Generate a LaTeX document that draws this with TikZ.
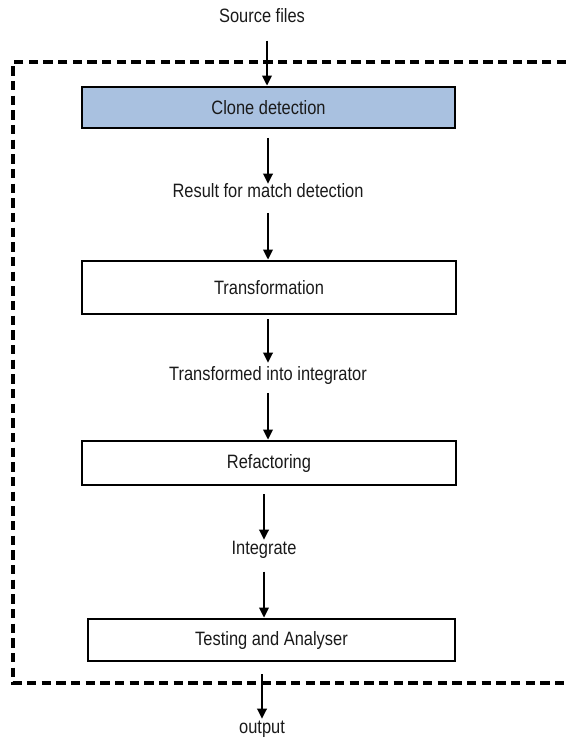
\documentclass[tikz,border=0pt]{standalone}
\usepackage{fontspec}
\setmainfont[FakeStretch=0.85]{Liberation Sans}
\usetikzlibrary{arrows.meta}
\definecolor{clonefill}{HTML}{A9C1E0}
\definecolor{ink}{HTML}{1A1A1A}
\begin{document}
\begin{tikzpicture}[x=0.75pt,y=-0.75pt,
  txtfont/.style={font=\fontsize{14.5}{17}\selectfont, text=ink},
  lbl/.style={txtfont, inner sep=0pt, text height=10.5pt, text depth=3pt},
  stage/.style={txtfont, draw=black, line width=2pt, inner sep=0pt},
  arr/.style={line width=1.7pt, -{Triangle[length=7.5pt,width=7pt]}},
  frame/.style={line width=2.6pt, dash pattern=on 7pt off 4pt}]
\useasboundingbox (0,0) rectangle (566,737);
% dashed frame (open on the right side, runs past the edge)
\draw[frame] (566,62) -- (13,62) -- (13,683) -- (566,683);
% nodes
\node[lbl] (src) at (262,18) {Source files};
\node[stage, fill=clonefill, minimum width=279.75pt, minimum height=30.75pt] (clone) at (268.5,107.5) {Clone detection};
\node[lbl] (res) at (268,193) {Result for match detection};
\node[stage, fill=white, minimum width=280.5pt, minimum height=39.75pt] (trans) at (269,287.5) {Transformation};
\node[lbl] (tint) at (268,375) {Transformed into integrator};
\node[stage, fill=white, minimum width=280.5pt, minimum height=33pt] (refac) at (269,463) {Refactoring};
\node[lbl] (integ) at (264,549) {Integrate};
\node[stage, fill=white, minimum width=275.25pt, minimum height=31.5pt] (test) at (271.5,640) {Testing and Analyser};
\node[lbl] (out) at (262,728) {output};
% connectors
\draw[arr, shorten <=10pt] (src.south -| 267,0) -- (clone.north -| 267,0);
\draw[arr, shorten <=6.5pt] (clone.south -| res) -- (res.north);
\draw[arr, shorten <=8pt] (res.south) -- (trans.north -| res);
\draw[arr, shorten <=3pt, shorten >=2.25pt] (trans.south -| tint) -- (tint.north);
\draw[arr, shorten <=6.5pt] (tint.south) -- (refac.north -| tint);
\draw[arr, shorten <=6pt] (refac.south -| integ) -- (integ.north);
\draw[arr, shorten <=10pt] (integ.south) -- (test.north -| integ);
\draw[arr, shorten <=9pt] (test.south -| out) -- (out.north);
\end{tikzpicture}
\end{document}
